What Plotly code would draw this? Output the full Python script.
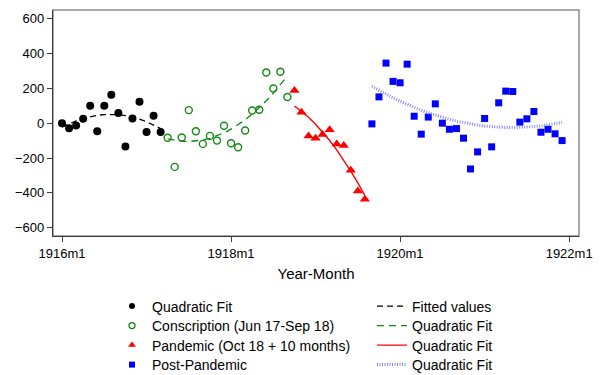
import numpy as np
import plotly.graph_objects as go

# Months counted from 1916m1 (= 0)
pre_months = list(range(0, 15))
pre_values = [0, -29, -13, 25, 100, -46, 100, 163, 59, -134, 27, 123, -50, 42, -50]

consc_months = list(range(15, 33))
consc_values = [-84, -251, -82, 75, -46, -119, -73, -100, -15, -115, -138, -42,
                 73, 77, 291, 199, 295, 150]

pand_months = list(range(33, 44))
pand_values = [188, 63, -73, -86, -65, -38, -119, -128, -270, -389, -437]

post_months = list(range(44, 72))
post_values = [-4, 151, 345, 240, 232, 339, 40, -63, 35, 111, 0, -35, -31, -86,
               -263, -165, 27, -136, 117, 184, 182, 6, 25, 67, -52, -35, -61, -100]

x_tick_vals = [0, 24, 48, 72]
x_tick_text = ["1916m1", "1918m1", "1920m1", "1922m1"]
y_tick_vals = [-600, -400, -200, 0, 200, 400, 600]

marker_labels = ["Quadratic Fit", "Conscription (Jun 17-Sep 18)",
                 "Pandemic (Oct 18 + 10 months)", "Post-Pandemic"]
line_labels = ["Fitted values", "Quadratic Fit", "Quadratic Fit", "Quadratic Fit"]

FONT = "Liberation Sans, Arial, Helvetica, sans-serif"
GREEN = "rgb(20,135,20)"
RED = "rgb(255,0,0)"
BLUE = "rgb(0,0,255)"
LAVENDER = "rgb(135,135,255)"

PLOT_L, PLOT_R, PLOT_T, PLOT_B = 53, 31, 10, 139
PLOT_H = 375 - PLOT_T - PLOT_B
PLOT_W = 610 - PLOT_L - PLOT_R


def qfit(xs, ys):
    """Quadratic least-squares fit, evaluated at each month of the segment."""
    xs = np.asarray(xs, dtype=float)
    coef = np.polyfit(xs, np.asarray(ys, dtype=float), 2)
    return xs, np.polyval(coef, xs)


marker_styles = [
    dict(symbol="circle", size=8, color="black"),
    dict(symbol="circle-open", size=7, color=GREEN, line=dict(width=1.4, color=GREEN)),
    dict(symbol="triangle-up", size=9, color=RED),
    dict(symbol="square", size=7, color=BLUE),
]
legend_marker_styles = [
    dict(symbol="circle", size=6, color="black"),
    dict(symbol="circle-open", size=6, color=GREEN, line=dict(width=1.3, color=GREEN)),
    dict(symbol="triangle-up", size=7, color=RED),
    dict(symbol="square", size=6, color=BLUE),
]
line_styles = [
    dict(color="black", width=1.3, dash="6px,4px"),
    dict(color=GREEN, width=1.3, dash="7px,5px"),
    dict(color=RED, width=1.4),
    dict(color=LAVENDER, width=3, dash="1px,1.5px"),
]

segments = [(pre_months, pre_values), (consc_months, consc_values),
            (pand_months, pand_values), (post_months, post_values)]

fig = go.Figure()

# Observed series
for (xs, ys), mstyle in zip(segments, marker_styles):
    fig.add_trace(go.Scatter(x=xs, y=ys, mode="markers", marker=mstyle,
                             showlegend=False, hoverinfo="x+y"))

# Quadratic fit per segment, each with its own legend row in the right column
for i, ((xs, ys), lstyle, label) in enumerate(zip(segments, line_styles, line_labels)):
    fx, fy = qfit(xs, ys)
    fig.add_trace(go.Scatter(x=fx, y=fy, mode="lines", name=label, line=lstyle,
                             legend=f"legend{5 + i}"))

# Legend keys for the observed series (left column)
for i, (label, mstyle) in enumerate(zip(marker_labels, legend_marker_styles)):
    fig.add_trace(go.Scatter(x=[None], y=[None], mode="markers", name=label,
                             marker=mstyle, legend="legend" if i == 0 else f"legend{1 + i}"))

row_centres = [306.5, 326.0, 345.5, 365.0]
left_x0 = 112
right_x0 = 372


def legend_box(x_px, y_px):
    return dict(
        orientation="v", bgcolor="rgba(0,0,0,0)", borderwidth=0,
        font=dict(family=FONT, size=14, color="black"),
        xanchor="left", yanchor="middle", itemclick=False, itemdoubleclick=False,
        x=(x_px - PLOT_L) / PLOT_W, y=(375 - PLOT_B - y_px) / PLOT_H,
    )


legends = {}
for i, yc in enumerate(row_centres):
    legends["legend" if i == 0 else f"legend{1 + i}"] = legend_box(left_x0, yc)
    legends[f"legend{5 + i}"] = legend_box(right_x0, yc)

fig.update_layout(
    width=610, height=375,
    margin=dict(l=PLOT_L, r=PLOT_R, t=PLOT_T, b=PLOT_B, autoexpand=False),
    paper_bgcolor="white", plot_bgcolor="white",
    font=dict(family=FONT, size=13, color="black"),
    showlegend=True,
    xaxis=dict(
        range=[-1.28, 73.4], tickmode="array", tickvals=x_tick_vals, ticktext=x_tick_text,
        showgrid=False, zeroline=False, showline=True, linecolor="#3c3c3c", linewidth=1.4,
        ticks="outside", ticklen=5, tickwidth=1, tickcolor="#3c3c3c",
        tickfont=dict(family=FONT, size=13),
        title=dict(text="Year-Month", font=dict(family=FONT, size=15), standoff=8),
    ),
    yaxis=dict(
        range=[-648, 650], tickmode="array", tickvals=y_tick_vals,
        showgrid=False, zeroline=False, showline=True, linecolor="#3c3c3c", linewidth=1.4,
        ticks="outside", ticklen=5, tickwidth=1, tickcolor="#3c3c3c",
        tickfont=dict(family=FONT, size=13),
    ),
    # light frame around the plot region
    shapes=[dict(type="rect", xref="paper", yref="paper", x0=0, x1=1, y0=0, y1=1,
                 line=dict(color="#8c8c8c", width=1.5), layer="below")],
    **legends,
)

fig.write_html("out.html")
